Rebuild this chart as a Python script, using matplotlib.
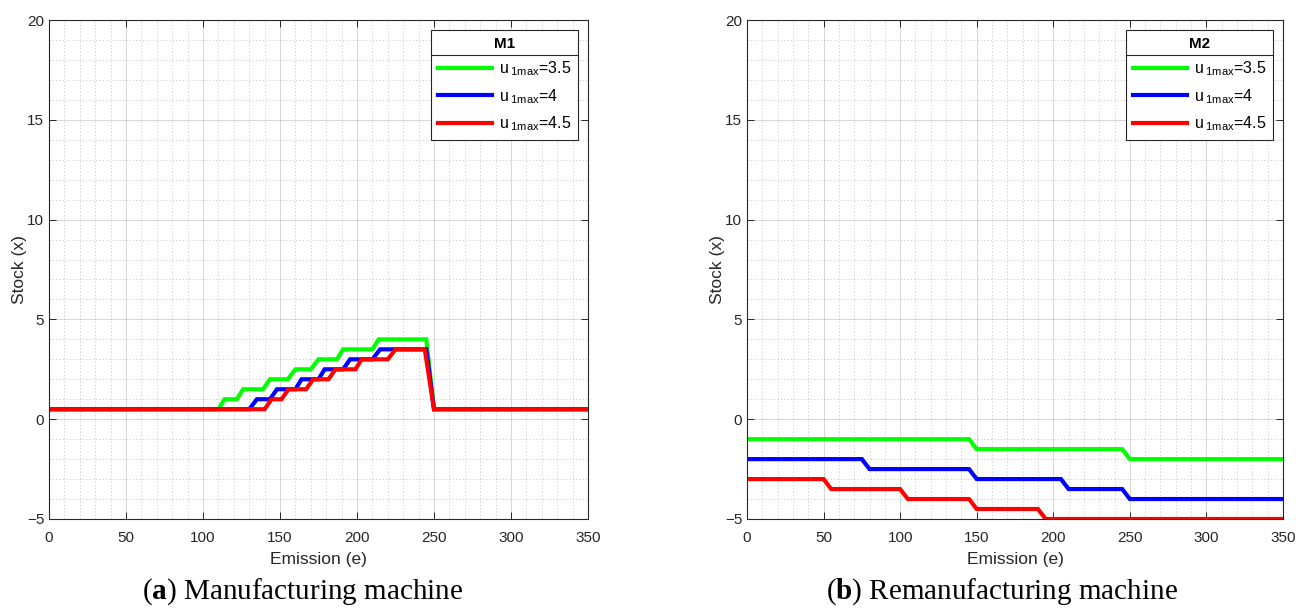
import matplotlib
matplotlib.use('Agg')
import matplotlib.pyplot as plt
from matplotlib.ticker import MultipleLocator
from matplotlib.lines import Line2D

plt.rcParams['font.family'] = ['Liberation Sans', 'DejaVu Sans']
plt.rcParams['mathtext.fontset'] = 'custom'
plt.rcParams['mathtext.rm'] = 'Liberation Serif'
plt.rcParams['mathtext.bf'] = 'Liberation Serif:bold'

# (a) manufacturing machine M1 - stock vs emission
m1_green_x = [0, 110, 114, 122, 126, 139, 143.5, 155, 160, 170, 175, 187, 191, 210, 214, 245, 250, 350]
m1_green_y = [0.5, 0.5, 1, 1, 1.5, 1.5, 2, 2, 2.5, 2.5, 3, 3, 3.5, 3.5, 4, 4, 0.5, 0.5]
m1_blue_x = [0, 130, 135, 143.5, 148, 160, 164, 175, 179, 191, 195.5, 210, 215, 245, 250, 350]
m1_blue_y = [0.5, 0.5, 1, 1, 1.5, 1.5, 2, 2, 2.5, 2.5, 3, 3, 3.5, 3.5, 0.5, 0.5]
m1_red_x = [0, 140, 144.5, 151, 155.5, 167, 171.5, 181.5, 186, 199, 203, 220, 225, 244, 250, 350]
m1_red_y = [0.5, 0.5, 1, 1, 1.5, 1.5, 2, 2, 2.5, 2.5, 3, 3, 3.5, 3.5, 0.5, 0.5]

# (b) remanufacturing machine M2
m2_green_x = [0, 145, 150, 245, 250, 350]
m2_green_y = [-1, -1, -1.5, -1.5, -2, -2]
m2_blue_x = [0, 75, 80, 145, 150, 205, 210, 245, 250, 350]
m2_blue_y = [-2, -2, -2.5, -2.5, -3, -3, -3.5, -3.5, -4, -4]
m2_red_x = [0, 50, 55, 100, 105, 145, 150, 190, 195, 350]
m2_red_y = [-3, -3, -3.5, -3.5, -4, -4, -4.5, -4.5, -5, -5]

labels = [r'u$\,_{\mathregular{1max}}$=3.5', r'u$\,_{\mathregular{1max}}$=4', r'u$\,_{\mathregular{1max}}$=4.5']
colors = ['#00ff00', '#0000ff', '#ff0000']
ink = '#262626'

fig = plt.figure(figsize=(12.96, 6.08), dpi=100)
ax1 = fig.add_axes([49/1296, 89/608, 539/1296, 499/608])
ax2 = fig.add_axes([747/1296, 89/608, 536/1296, 499/608])


def style_axes(ax, title, series, width_px):
    for (xs, ys), c, lab in zip(series, colors, labels):
        ax.plot(xs, ys, color=c, lw=3, label=lab, solid_joinstyle='miter')
    ax.set_xlim(0, 350)
    ax.set_ylim(-5, 20)
    ax.xaxis.set_major_locator(MultipleLocator(50))
    ax.xaxis.set_minor_locator(MultipleLocator(10))
    ax.yaxis.set_major_locator(MultipleLocator(5))
    ax.yaxis.set_minor_locator(MultipleLocator(1))
    ax.grid(which='major', color=ink, alpha=0.18, lw=0.7)
    ax.grid(which='minor', color=ink, alpha=0.25, lw=0.6, linestyle=(0, (1.5, 2.5)))
    ax.set_axisbelow(True)
    ax.tick_params(which='major', direction='in', top=True, right=True, length=5,
                   width=0.7, colors=ink, labelsize=11)
    ax.tick_params(axis='x', which='major', pad=9)
    ax.tick_params(which='minor', length=0)
    for s in ax.spines.values():
        s.set_color(ink)
        s.set_linewidth(0.8)
    ax.set_xlabel('Emission (e)', fontsize=12.5, color=ink, labelpad=5)
    ax.set_ylabel('Stock (x)', fontsize=12.5, color=ink)
    ax.yaxis.set_label_coords(-22 / width_px, 0.5)
    leg = ax.legend(loc='upper right', bbox_to_anchor=(1, 1), borderaxespad=0.6,
                    title=title, title_fontproperties={'weight': 'bold', 'size': 11},
                    fontsize=11.5, handlelength=3.4, handletextpad=0.4,
                    labelspacing=0.55, fancybox=False, framealpha=1,
                    edgecolor=ink, borderpad=0.45)
    leg.get_frame().set_linewidth(0.8)
    return leg


leg1 = style_axes(ax1, 'M1', [(m1_green_x, m1_green_y), (m1_blue_x, m1_blue_y), (m1_red_x, m1_red_y)], 539)
leg2 = style_axes(ax2, 'M2', [(m2_green_x, m2_green_y), (m2_blue_x, m2_blue_y), (m2_red_x, m2_red_y)], 536)

# separator line under legend title, like MATLAB
fig.canvas.draw()
r = fig.canvas.get_renderer()
inv = fig.transFigure.inverted()
for leg in (leg1, leg2):
    fb = leg.get_frame().get_window_extent(r)
    tb = leg.get_title().get_window_extent(r)
    y = tb.y0 - 4
    (x0, yy), (x1, _) = inv.transform([(fb.x0, y), (fb.x1, y)])
    fig.add_artist(Line2D([x0, x1], [yy, yy], color=ink, lw=0.8))

fig.text(303/1296, 1 - 592/608, r'($\mathbf{a}$) Manufacturing machine', ha='center', va='center',
         fontsize=21, family='Liberation Serif')
fig.text(1002/1296, 1 - 592/608, r'($\mathbf{b}$) Remanufacturing machine', ha='center', va='center',
         fontsize=21, family='Liberation Serif')

fig.savefig('out.png', dpi=100)
